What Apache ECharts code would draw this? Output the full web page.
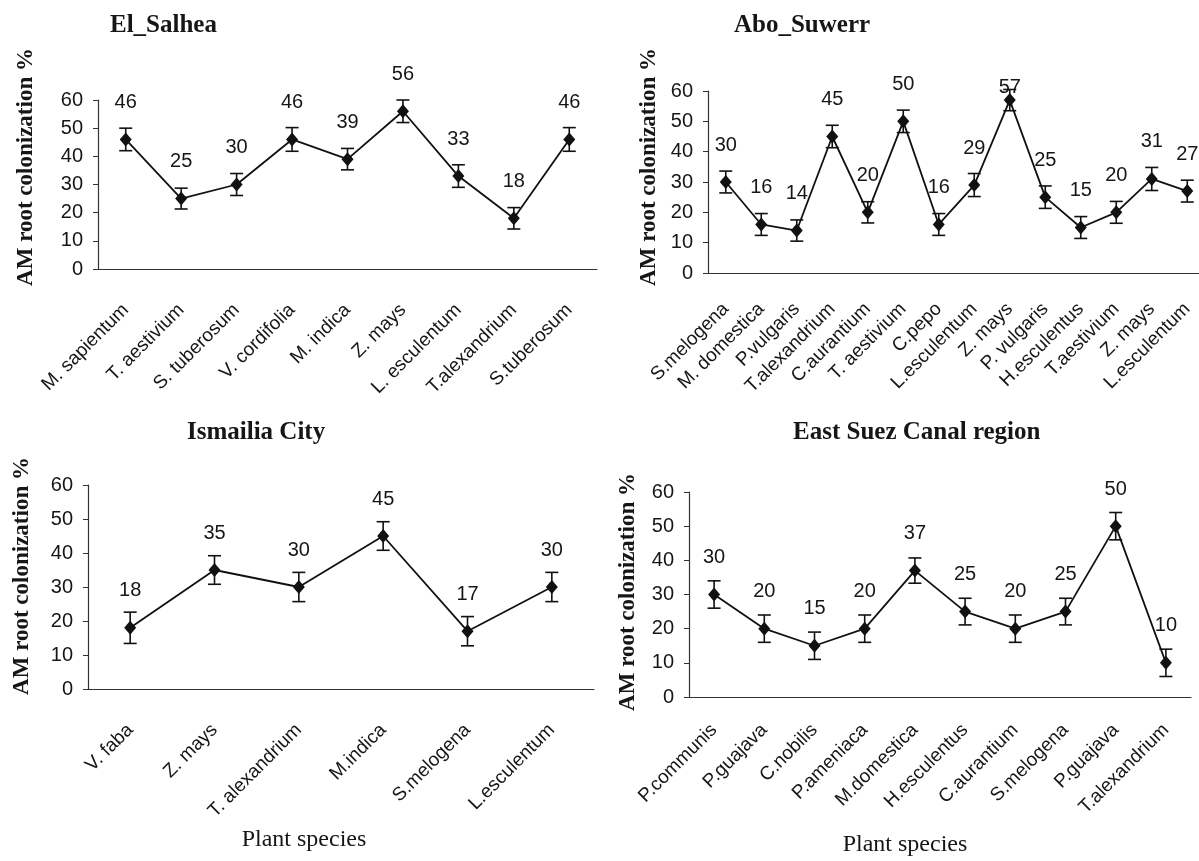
<!DOCTYPE html>
<html>
<head>
<meta charset="utf-8">
<title>AM root colonization</title>
<script src="https://cdn.jsdelivr.net/npm/echarts@6/dist/echarts.min.js"></script>
<style>
    html, body { margin: 0; padding: 0; background: #ffffff; }
    #chart { width: 1199px; height: 861px; }
</style>
</head>
<body>
<div id="chart"></div>
<script>
// El_Salhea
const salheaCats = ['M. sapientum', 'T. aestivium', 'S. tuberosum', 'V. cordifolia', 'M. indica', 'Z. mays', 'L. esculentum', 'T.alexandrium', 'S.tuberosum']
const salheaVals = [46, 25, 30, 46, 39, 56, 33, 18, 46]
const salheaErr = [4, 3.7, 3.9, 4.2, 3.8, 4, 4, 3.8, 4.2]

// Abo_Suwerr
const aboCats = ['S.melogena', 'M. domestica', 'P.vulgaris', 'T.alexandrium', 'C.aurantium', 'T. aestivium', 'C.pepo', 'L.esculentum', 'Z. mays', 'P. vulgaris', 'H.esculentus', 'T.aestivium', 'Z. mays', 'L.esculentum']
const aboVals = [30, 16, 14, 45, 20, 50, 16, 29, 57, 25, 15, 20, 31, 27]
const aboErr = [3.6, 3.6, 3.5, 3.7, 3.5, 3.7, 3.6, 3.8, 3.5, 3.7, 3.6, 3.6, 3.8, 3.6]

// Ismailia City
const ismCats = ['V. faba', 'Z. mays', 'T. alexandrium', 'M.indica', 'S.melogena', 'L.esculentum']
const ismVals = [18, 35, 30, 45, 17, 30]
const ismErr = [4.6, 4.2, 4.3, 4.2, 4.3, 4.3]

// East Suez Canal region
const suezCats = ['P.communis', 'P.guajava', 'C.nobilis', 'P.ameniaca', 'M.domestica', 'H.esculentus', 'C.aurantium', 'S.melogena', 'P.guajava', 'T.alexandrium']
const suezVals = [30, 20, 15, 20, 37, 25, 20, 25, 50, 10]
const suezErr = [4, 4, 4, 4, 3.7, 3.9, 4, 3.9, 4, 4]

const yTicks = { min: 0, max: 60, interval: 10 }

const SANS = "'Liberation Sans', Arial, sans-serif"
const SERIF = "'Liberation Serif', 'Times New Roman', serif"
const INK = '#161616'

// layout of the four panels
const panels = [
    { title: 'El_Salhea', cats: salheaCats, vals: salheaVals, err: salheaErr,
      grid: { left: 98, top: 100, width: 499, height: 169 }, titleAt: [105, 8], yNameAt: [26, 167], labelMargin: 38 },
    { title: 'Abo_Suwerr', cats: aboCats, vals: aboVals, err: aboErr,
      grid: { left: 708, top: 91, width: 497, height: 182 }, titleAt: [729, 8], yNameAt: [649, 167], labelMargin: 33,
      tightLabels: [8] },
    { title: 'Ismailia City', cats: ismCats, vals: ismVals, err: ismErr,
      grid: { left: 88, top: 485, width: 506, height: 204 }, titleAt: [182, 415], yNameAt: [22, 576], labelMargin: 38,
      xName: [304, 840] },
    { title: 'East Suez Canal region', cats: suezCats, vals: suezVals, err: suezErr,
      grid: { left: 689, top: 492, width: 502, height: 205 }, titleAt: [788, 415], yNameAt: [628, 592], labelMargin: 30,
      xName: [905, 845] }
]

const myChart = echarts.init(document.getElementById('chart'))

function errorBar(params, api) {
    const lo = api.coord([api.value(0), api.value(1)])
    const hi = api.coord([api.value(0), api.value(2)])
    const w = 6.5
    const style = { stroke: '#111', lineWidth: 1.6 }
    return {
        type: 'group',
        children: [
            { type: 'line', shape: { x1: lo[0], y1: lo[1], x2: hi[0], y2: hi[1] }, style: style },
            { type: 'line', shape: { x1: lo[0] - w, y1: lo[1], x2: lo[0] + w, y2: lo[1] }, style: style },
            { type: 'line', shape: { x1: hi[0] - w, y1: hi[1], x2: hi[0] + w, y2: hi[1] }, style: style }
        ]
    }
}

const grids = [], xAxes = [], yAxes = [], series = [], titles = [], graphics = []

panels.forEach((p, i) => {
    grids.push(Object.assign({ outerBoundsMode: 'none', containLabel: false }, p.grid))
    titles.push({
        text: p.title, left: p.titleAt[0], top: p.titleAt[1],
        textStyle: { fontFamily: SERIF, fontWeight: 'bold', fontSize: 25, color: INK }
    })
    xAxes.push({
        gridIndex: i, type: 'category', data: p.cats, boundaryGap: true,
        axisLine: { lineStyle: { color: '#333', width: 1.2 } },
        axisTick: { length: 5, lineStyle: { color: '#333' } },
        axisLabel: { rotate: 45, interval: 0, margin: p.labelMargin, fontSize: 19, fontFamily: SANS, color: INK }
    })
    yAxes.push({
        gridIndex: i, type: 'value', min: yTicks.min, max: yTicks.max, interval: yTicks.interval,
        axisLine: { show: true, lineStyle: { color: '#333', width: 1.2 } },
        axisTick: { show: true, length: 5, lineStyle: { color: '#333' } },
        splitLine: { show: false },
        axisLabel: { margin: 15, fontSize: 20, fontFamily: SANS, color: INK }
    })
    series.push({
        type: 'custom', xAxisIndex: i, yAxisIndex: i,
        renderItem: errorBar,
        encode: { x: 0, y: [1, 2] },
        data: p.vals.map((v, j) => [j, v - p.err[j], v + p.err[j]]),
        z: 2, silent: true
    })
    series.push({
        type: 'line', xAxisIndex: i, yAxisIndex: i,
        data: p.vals.map((v, j) => (p.tightLabels && p.tightLabels.indexOf(j) >= 0)
            ? { value: v, label: { distance: 0, offset: [0, 4] } }
            : v),
        symbol: 'diamond', symbolSize: [12, 14],
        lineStyle: { color: '#111', width: 1.8 },
        itemStyle: { color: '#111' },
        label: { show: true, position: 'top', distance: 20, fontSize: 20, fontFamily: SANS, color: INK },
        z: 3, animation: false
    })
    graphics.push({
        type: 'text', x: p.yNameAt[0], y: p.yNameAt[1], rotation: Math.PI / 2,
        style: { text: 'AM root colonization %', textAlign: 'center', textVerticalAlign: 'middle',
                 font: 'bold 23px ' + SERIF, fill: INK }
    })
    if (p.xName) {
        graphics.push({
            type: 'text', x: p.xName[0], y: p.xName[1],
            style: { text: 'Plant species', textAlign: 'center', textVerticalAlign: 'middle',
                     font: '24px ' + SERIF, fill: INK }
        })
    }
})

myChart.setOption({
    backgroundColor: '#ffffff',
    animation: false,
    title: titles,
    grid: grids,
    xAxis: xAxes,
    yAxis: yAxes,
    series: series,
    graphic: graphics
})
window.addEventListener('resize', myChart.resize)
</script>
</body>
</html>
